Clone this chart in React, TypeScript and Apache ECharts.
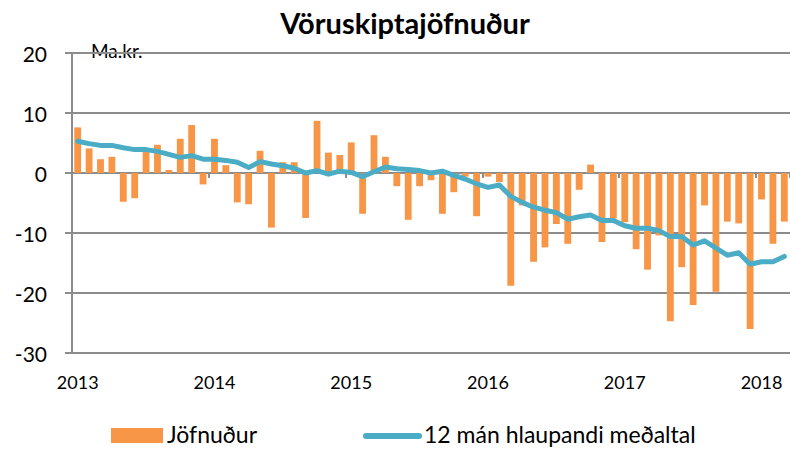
import React, { useEffect, useRef } from "react";
import * as echarts from "echarts";

const years = ["2013", "2014", "2015", "2016", "2017", "2018"];
const monthsInLastYear = 3;
const months = ["01", "02", "03", "04", "05", "06", "07", "08", "09", "10", "11", "12"];

const categories: string[] = [];
years.forEach((y, yi) => {
  const n = yi === years.length - 1 ? monthsInLastYear : 12;
  for (let m = 0; m < n; m++) categories.push(`${y}-${months[m]}`);
});

const jofnudur = [
  7.6, 4.1, 2.3, 2.7, -4.8, -4.2, 3.7, 4.7, 0.5, 5.7, 8.0, -1.9,
  5.7, 1.3, -4.9, -5.2, 3.7, -9.1, 1.8, 1.8, -7.5, 8.7, 3.4, 3.0,
  5.1, -6.8, 6.3, 2.7, -2.2, -7.8, -2.2, -1.2, -6.8, -3.2, -0.6, -7.2,
  -0.6, -1.5, -18.8, -5.4, -14.8, -12.4, -8.5, -11.8, -2.8, 1.4, -11.5, -7.6,
  -8.2, -12.7, -16.1, -10.4, -24.7, -15.7, -22.0, -5.4, -19.8, -8.1, -8.4, -26.0,
  -4.4, -11.8, -8.1,
];

const medaltal = [
  5.3, 4.9, 4.6, 4.6, 4.2, 3.9, 3.9, 3.6, 3.1, 2.6, 2.9, 2.3,
  2.3, 2.1, 1.8, 0.9, 1.9, 1.5, 1.2, 0.8, 0.0, 0.4, -0.2, 0.3,
  0.1, -0.6, 0.2, 1.0, 0.7, 0.6, 0.4, 0.0, 0.3, -0.4, -1.0, -1.8,
  -2.4, -2.0, -3.9, -4.9, -5.7, -6.2, -6.6, -7.7, -7.3, -7.0, -7.9, -7.9,
  -8.8, -9.2, -9.2, -9.6, -10.6, -10.6, -12.0, -11.3, -12.5, -13.7, -13.3, -15.2,
  -14.8, -14.8, -13.9,
];

const seriesNames = ["Jöfnuður", "12 mán hlaupandi meðaltal"];
const yMin = -30;
const yMax = 20;
const yInterval = 10;

const FONT = "Lato, 'Open Sans', sans-serif";
const GRID_COLOR = "#8C8C8C";
const BAR_COLOR = "#F79646";
const LINE_COLOR = "#4BACC6";

export default function App() {
  const ref = useRef<HTMLDivElement>(null);

  useEffect(() => {
    if (!ref.current) return;
    const chart = echarts.init(ref.current, undefined, { renderer: "svg" });
    chart.setOption({
      animation: false,
      backgroundColor: "#ffffff",
      textStyle: { fontFamily: FONT },
      graphic: [
        {
          type: "text",
          x: 405,
          y: 22,
          style: {
            text: "Vöruskiptajöfnuður",
            fontFamily: FONT,
            fontSize: 29,
            fontWeight: "bold",
            fill: "#000",
            textAlign: "center",
            textVerticalAlign: "middle",
          },
        },
        {
          type: "text",
          x: 91,
          y: 50,
          style: {
            text: "Ma.kr.",
            fontFamily: FONT,
            fontSize: 19,
            fill: "#000",
            textAlign: "left",
            textVerticalAlign: "middle",
          },
        },
        {
          type: "rect",
          shape: { x: 111, y: 428, width: 52, height: 15 },
          style: { fill: BAR_COLOR },
        },
        {
          type: "text",
          x: 167,
          y: 434,
          style: {
            text: seriesNames[0],
            fontFamily: FONT,
            fontSize: 23,
            fill: "#000",
            textAlign: "left",
            textVerticalAlign: "middle",
          },
        },
        {
          type: "line",
          shape: { x1: 366, y1: 436, x2: 419, y2: 436 },
          style: { stroke: LINE_COLOR, lineWidth: 6, lineCap: "round" },
        },
        {
          type: "text",
          x: 424,
          y: 434,
          style: {
            text: seriesNames[1],
            fontFamily: FONT,
            fontSize: 23,
            fill: "#000",
            textAlign: "left",
            textVerticalAlign: "middle",
          },
        },
      ],
      grid: { left: 72, right: 0, top: 53, bottom: 96, outerBoundsMode: "none", containLabel: false },
      xAxis: {
        type: "category",
        data: categories,
        boundaryGap: true,
        axisLine: { onZero: true, lineStyle: { color: GRID_COLOR, width: 2 } },
        axisTick: {
          show: true,
          length: 5,
          interval: (i: number) => i % 12 === 0,
          lineStyle: { color: GRID_COLOR, width: 2 },
        },
        axisLabel: {
          interval: (i: number) => i % 12 === 0,
          formatter: (v: string) => v.slice(0, 4),
          margin: 20,
          fontFamily: FONT,
          fontSize: 18,
          color: "#000",
        },
        splitLine: { show: false },
      },
      yAxis: {
        type: "value",
        min: yMin,
        max: yMax,
        interval: yInterval,
        axisLine: { show: true, lineStyle: { color: GRID_COLOR, width: 2 } },
        axisTick: { show: true, length: 7, lineStyle: { color: GRID_COLOR, width: 2 } },
        axisLabel: { margin: 25, fontFamily: FONT, fontSize: 21, color: "#000" },
        splitLine: { show: true, lineStyle: { color: GRID_COLOR, width: 2 } },
      },
      series: [
        {
          name: seriesNames[0],
          type: "bar",
          data: jofnudur,
          barWidth: "60%",
          itemStyle: { color: BAR_COLOR },
        },
        {
          name: seriesNames[1],
          type: "line",
          data: medaltal,
          symbol: "none",
          lineStyle: { color: LINE_COLOR, width: 5, cap: "round", join: "round" },
          itemStyle: { color: LINE_COLOR },
        },
      ],
    });
    return () => chart.dispose();
  }, []);

  return <div ref={ref} style={{ width: 790, height: 449, position: "absolute", left: 0, top: 0 }} />;
}
